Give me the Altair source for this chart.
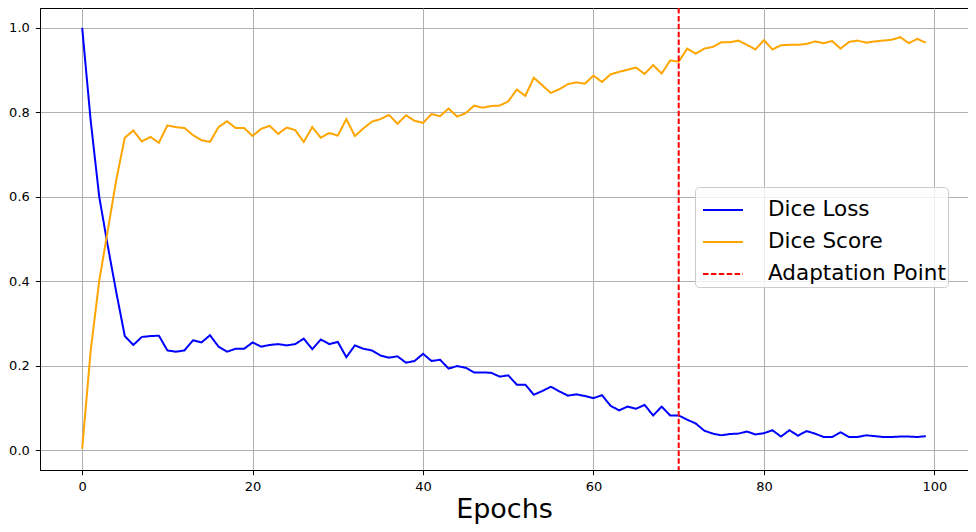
import altair as alt
import pandas as pd

epochs = list(range(100))

dice_loss = [
    1.000, 0.780, 0.600, 0.484, 0.374, 0.270, 0.249, 0.268, 0.270, 0.271,
    0.236, 0.233, 0.236, 0.260, 0.255, 0.272, 0.245, 0.233, 0.240, 0.240,
    0.255, 0.245, 0.249, 0.251, 0.248, 0.251, 0.264, 0.239, 0.262, 0.251,
    0.256, 0.220, 0.248, 0.240, 0.236, 0.224, 0.219, 0.222, 0.207, 0.211,
    0.228, 0.211, 0.214, 0.193, 0.199, 0.195, 0.184, 0.184, 0.183, 0.174,
    0.177, 0.155, 0.155, 0.131, 0.140, 0.150, 0.139, 0.129, 0.132, 0.128,
    0.123, 0.130, 0.105, 0.094, 0.103, 0.098, 0.107, 0.082, 0.103, 0.082,
    0.082, 0.072, 0.063, 0.046, 0.039, 0.035, 0.038, 0.039, 0.044, 0.037,
    0.040, 0.047, 0.032, 0.047, 0.034, 0.045, 0.039, 0.031, 0.031, 0.042,
    0.031, 0.031, 0.035, 0.033, 0.031, 0.031, 0.032, 0.032, 0.031, 0.033,
]

dice_score = [
    0.003, 0.236, 0.401, 0.520, 0.640, 0.740, 0.757, 0.731, 0.742, 0.728,
    0.769, 0.765, 0.763, 0.746, 0.734, 0.730, 0.765, 0.779, 0.763, 0.763,
    0.744, 0.761, 0.768, 0.749, 0.764, 0.758, 0.730, 0.765, 0.740, 0.751,
    0.745, 0.784, 0.744, 0.762, 0.778, 0.784, 0.794, 0.773, 0.793, 0.780,
    0.775, 0.796, 0.791, 0.809, 0.790, 0.798, 0.816, 0.811, 0.815, 0.816,
    0.826, 0.854, 0.839, 0.882, 0.864, 0.846, 0.855, 0.867, 0.871, 0.868,
    0.887, 0.872, 0.890, 0.896, 0.901, 0.906, 0.891, 0.912, 0.892, 0.923,
    0.920, 0.951, 0.939, 0.951, 0.955, 0.966, 0.966, 0.970, 0.960, 0.949,
    0.971, 0.949, 0.959, 0.960, 0.960, 0.962, 0.968, 0.964, 0.969, 0.951,
    0.967, 0.970, 0.965, 0.968, 0.970, 0.972, 0.978, 0.964, 0.974, 0.965,
]

series_names = ["Dice Loss", "Dice Score", "Adaptation Point"]
series_colors = ["#0000ff", "#ffa500", "#ff0000"]
series_dashes = [[1, 0], [1, 0], [5.5, 2.4]]
adaptation_epoch = [70]

x_ticks = [0, 20, 40, 60, 80, 100]
y_ticks = [0.0, 0.2, 0.4, 0.6, 0.8, 1.0]

df_lines = pd.DataFrame(
    {
        "epoch": epochs + epochs,
        "value": dice_loss + dice_score,
        "series": ["Dice Loss"] * len(epochs) + ["Dice Score"] * len(epochs),
    }
)
df_rule = pd.DataFrame({"epoch": adaptation_epoch, "series": ["Adaptation Point"]})

FONT = "DejaVu Sans"

x_enc = alt.X(
    "epoch:Q",
    scale=alt.Scale(domain=[-4.95, 103.95], nice=False, zero=False),
    axis=alt.Axis(
        values=x_ticks,
        title="Epochs",
        titleFontSize=27,
        titleFontWeight="normal",
        titleFont=FONT,
        titleColor="black",
        titlePadding=3,
        labelPadding=6,
    ),
)
y_enc = alt.Y(
    "value:Q",
    scale=alt.Scale(domain=[-0.0472, 1.0472], nice=False, zero=False),
    axis=alt.Axis(values=y_ticks, format=".1f", title=None, labelPadding=6),
)
color_enc = alt.Color(
    "series:N",
    scale=alt.Scale(domain=series_names, range=series_colors),
    legend=alt.Legend(title=None),
)
dash_enc = alt.StrokeDash(
    "series:N",
    scale=alt.Scale(domain=series_names, range=series_dashes),
    legend=alt.Legend(title=None),
)

lines = alt.Chart(df_lines).mark_line(strokeWidth=2).encode(
    x=x_enc, y=y_enc, color=color_enc, strokeDash=dash_enc
)
rule = alt.Chart(df_rule).mark_rule(strokeWidth=2).encode(
    x=alt.X("epoch:Q"), color=alt.Color("series:N"), strokeDash=alt.StrokeDash("series:N")
)

chart = (
    alt.layer(lines, rule)
    .properties(
        width=928,
        height=462,
        autosize=alt.AutoSizeParams(type="none"),
        padding={"left": 32, "top": 0, "right": 0, "bottom": 54},
    )
    .configure_view(stroke="black", strokeWidth=1)
    .configure_axis(
        labelFont=FONT,
        labelFontSize=13,
        labelColor="black",
        tickColor="black",
        tickSize=4.7,
        tickWidth=1,
        domainColor="black",
        domainWidth=1,
        grid=True,
        gridColor="#b0b0b0",
        gridWidth=1,
    )
    .configure_legend(
        orient="none",
        legendX=655,
        legendY=179,
        fillColor="rgba(255,255,255,0.8)",
        strokeColor="#cccccc",
        cornerRadius=4,
        padding=2,
        labelFont=FONT,
        labelFontSize=21.5,
        labelColor="black",
        labelLimit=400,
        symbolType="stroke",
        symbolSize=1600,
        symbolStrokeWidth=2,
        symbolOffset=5,
        rowPadding=-9,
        labelOffset=24,
    )
)

chart.save("out.html", embed_options={"renderer": "svg", "actions": False})
